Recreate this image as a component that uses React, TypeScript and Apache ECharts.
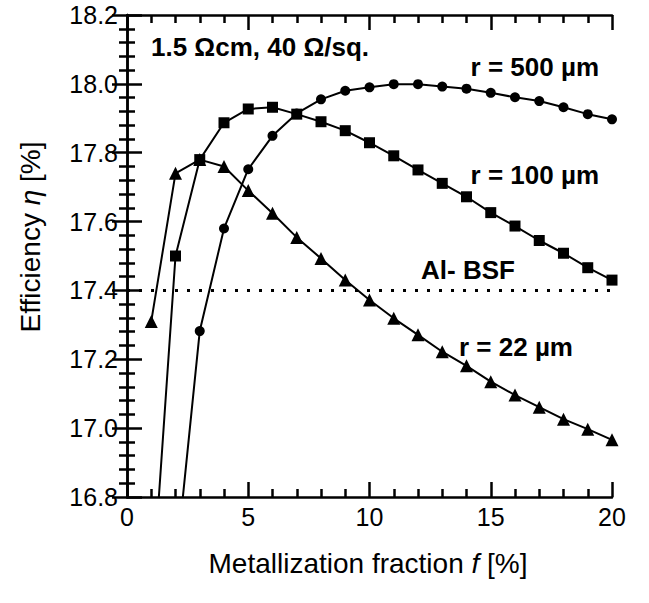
import React, { useEffect, useRef } from "react";
import * as echarts from "echarts";

const fraction = [1, 2, 3, 4, 5, 6, 7, 8, 9, 10, 11, 12, 13, 14, 15, 16, 17, 18, 19, 20];
const fraction500 = [2, 3, 4, 5, 6, 7, 8, 9, 10, 11, 12, 13, 14, 15, 16, 17, 18, 19, 20];
const eff22 = [17.31, 17.74, 17.78, 17.76, 17.69, 17.624, 17.554, 17.493, 17.43, 17.372, 17.319, 17.271, 17.222, 17.181, 17.135, 17.096, 17.061, 17.026, 16.997, 16.966];
const eff100 = [16.48, 17.5, 17.78, 17.887, 17.927, 17.932, 17.912, 17.89, 17.864, 17.829, 17.791, 17.75, 17.711, 17.672, 17.626, 17.587, 17.545, 17.508, 17.466, 17.43];
const eff500 = [16.59, 17.282, 17.58, 17.752, 17.849, 17.914, 17.955, 17.98, 17.99, 17.999, 17.999, 17.992, 17.986, 17.974, 17.961, 17.95, 17.932, 17.912, 17.897];
const alBsf = 17.4;
const xTicks = [0, 5, 10, 15, 20];
const yTicks = [16.8, 17.0, 17.2, 17.4, 17.6, 17.8, 18.0, 18.2];

const FONT = "'Liberation Sans', Arial, sans-serif";

export default function App() {
  const ref = useRef<HTMLDivElement>(null);
  useEffect(() => {
    document.body.style.margin = "0";
    const chart = echarts.init(ref.current!, null, { renderer: "svg" });
    const axisLine = { show: true, lineStyle: { color: "#000", width: 2.5 } };
    const tick = { show: true, inside: true, length: 15, lineStyle: { color: "#000", width: 2.5 } };
    const minor = { show: true, splitNumber: 5, length: 8, lineStyle: { color: "#000", width: 2.5 } };
    const mk = (xs: number[], ys: number[]) => xs.map((x, i) => [x, ys[i]]);
    const bold = `bold 26px ${FONT}`;
    chart.setOption({
      animation: false,
      backgroundColor: "#fff",
      textStyle: { fontFamily: FONT },
      grid: { left: 127, top: 15, width: 485, height: 482 },
      xAxis: [
        {
          type: "value", min: xTicks[0], max: xTicks[xTicks.length - 1], interval: 5,
          axisLine, axisTick: tick, minorTick: minor, splitLine: { show: false },
          axisLabel: { fontSize: 25, color: "#000", margin: 7, fontFamily: FONT },
        },
        {
          type: "value", position: "top", min: 0, max: 20, interval: 5,
          axisLine, axisTick: tick, minorTick: minor, splitLine: { show: false },
          axisLabel: { show: false },
        },
      ],
      yAxis: [
        {
          type: "value", min: yTicks[0], max: yTicks[yTicks.length - 1], interval: 0.2,
          axisLine, axisTick: tick, minorTick: minor, splitLine: { show: false },
          axisLabel: { fontSize: 25, color: "#000", margin: 9, fontFamily: FONT, formatter: (v: number) => v.toFixed(1) },
        },
        {
          type: "value", position: "right", min: 16.8, max: 18.2, interval: 0.2,
          axisLine, axisTick: tick, minorTick: minor, splitLine: { show: false },
          axisLabel: { show: false },
        },
      ],
      series: [
        {
          name: "r = 22 µm", type: "line", data: mk(fraction, eff22), symbol: "triangle", symbolSize: 13,
          lineStyle: { color: "#000", width: 2 }, itemStyle: { color: "#000" }, clip: true,
          markLine: {
            silent: true, symbol: "none", label: { show: false },
            lineStyle: { color: "#000", width: 3, type: [3, 9] },
            data: [{ yAxis: alBsf }],
          },
        },
        {
          name: "r = 100 µm", type: "line", data: mk(fraction, eff100), symbol: "rect", symbolSize: 11,
          lineStyle: { color: "#000", width: 2 }, itemStyle: { color: "#000" }, clip: true,
        },
        {
          name: "r = 500 µm", type: "line", data: mk(fraction500, eff500), symbol: "circle", symbolSize: 10,
          lineStyle: { color: "#000", width: 2 }, itemStyle: { color: "#000" }, clip: true,
        },
      ],
      graphic: [
        { type: "text", x: 151, y: 47, style: { text: "1.5 Ωcm, 40 Ω/sq.", font: bold, fill: "#000", align: "left", verticalAlign: "middle" } },
        { type: "text", x: 599, y: 67, style: { text: "r = 500 µm", font: bold, fill: "#000", align: "right", verticalAlign: "middle" } },
        { type: "text", x: 599, y: 175, style: { text: "r = 100 µm", font: bold, fill: "#000", align: "right", verticalAlign: "middle" } },
        { type: "text", x: 421, y: 270, style: { text: "Al- BSF", font: bold, fill: "#000", align: "left", verticalAlign: "middle" } },
        { type: "text", x: 459, y: 347, style: { text: "r = 22 µm", font: bold, fill: "#000", align: "left", verticalAlign: "middle" } },
        {
          type: "text", x: 368, y: 563,
          style: {
            text: "Metallization fraction {i|f} [%]", font: `28px ${FONT}`, fill: "#000", align: "center", verticalAlign: "middle",
            rich: { i: { fontStyle: "italic", fontSize: 28, fontFamily: FONT } },
          },
        },
        {
          type: "text", x: 30, y: 237, rotation: Math.PI / 2,
          style: {
            text: "Efficiency {i|η} [%]", font: `28px ${FONT}`, fill: "#000", align: "center", verticalAlign: "middle",
            rich: { i: { fontStyle: "italic", fontSize: 28, fontFamily: FONT } },
          },
        },
      ],
    });
    return () => chart.dispose();
  }, []);
  return <div ref={ref} style={{ width: 649, height: 603 }} />;
}
